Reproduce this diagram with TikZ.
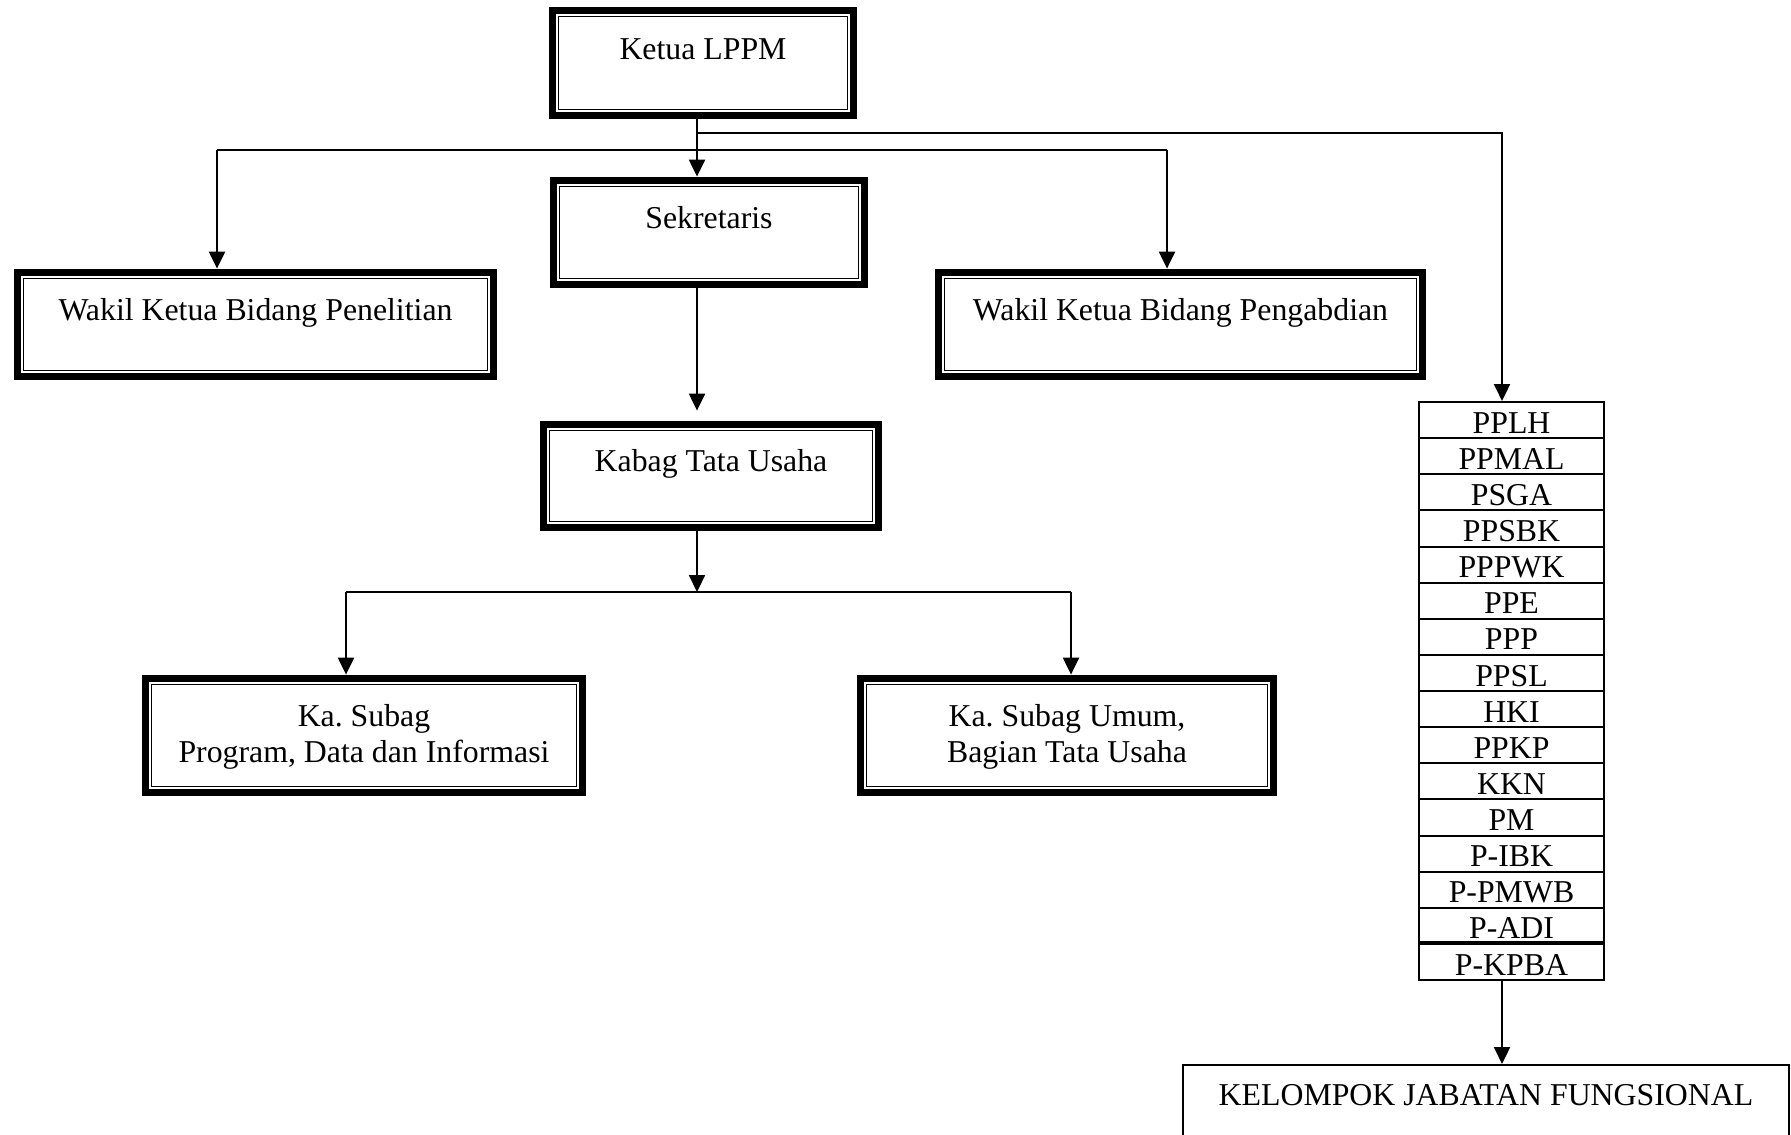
\documentclass[tikz,border=0pt]{standalone}
\usepackage{fontspec}
\setmainfont{Liberation Serif}
\usetikzlibrary{arrows.meta,fit,calc}
\frenchspacing
\begin{document}
\begin{tikzpicture}[x=0.5pt,y=-0.5pt,
  txt/.style={inner sep=0pt,font=\fontsize{15.9pt}{18pt}\selectfont},
  dbox/.style={inner sep=0pt,draw=none},
  thickb/.style={line width=3.5pt},
  thinb/.style={line width=0.75pt},
  rowbox/.style={draw,line width=1pt,inner sep=0pt},
  sbox/.style={draw,line width=1pt,inner sep=0pt},
  conn/.style={line width=1.1pt},
  arr/.style={line width=1.1pt,-{Triangle[length=8.5pt,width=8pt]}}]
\clip (0,0) rectangle (1791,1134);
\useasboundingbox (0,0) rectangle (1791,1134);
\fill[white] (0,0) rectangle (1791,1134);

% double-bordered boxes
\node[dbox,fit={(549,7) (857,119)}] (ketua) {};
\node[dbox,fit={(550,177) (868,288)}] (sek) {};
\node[dbox,fit={(14,269) (497,380)}] (wakil1) {};
\node[dbox,fit={(935,269) (1426,380)}] (wakil2) {};
\node[dbox,fit={(540,421) (882,531)}] (kabag) {};
\node[dbox,fit={(142,675) (586,796)}] (sub1) {};
\node[dbox,fit={(857,675) (1277,796)}] (sub2) {};
\foreach \n in {ketua,sek,wakil1,wakil2,kabag,sub1,sub2}{
  \draw[thickb] ([shift={(1.75pt,-1.75pt)}]\n.north west) rectangle ([shift={(-1.75pt,1.75pt)}]\n.south east);
  \draw[thinb] ([shift={(4.9pt,-4.9pt)}]\n.north west) rectangle ([shift={(-4.9pt,4.9pt)}]\n.south east);
}

% texts
\node[txt,anchor=base] (ketuaT) at (703,59.5) {Ketua LPPM};
\node[txt,anchor=base] (sekT) at (709,228) {Sekretaris};
\node[txt,anchor=base] (wakil1T) at (255.5,320.5) {Wakil Ketua Bidang Penelitian};
\node[txt,anchor=base] (wakil2T) at (1180.5,320.5) {Wakil Ketua Bidang Pengabdian};
\node[txt,anchor=base] (kabagT) at (711,471.5) {Kabag Tata Usaha};
\node[txt,anchor=base] (sub1a) at (364,726.5) {Ka. Subag};
\node[txt,anchor=base] (sub1b) at (364,762.5) {Program, Data dan Informasi};
\node[txt,anchor=base] (sub2a) at (1067,726.5) {Ka. Subag Umum,};
\node[txt,anchor=base] (sub2b) at (1067,762.5) {Bagian Tata Usaha};

% column list
\foreach \t [count=\i] in {PPLH,PPMAL,PSGA,PPSBK,PPPWK,PPE,PPP,PPSL,HKI,PPKP,KKN,PM,P-IBK,P-PMWB,P-ADI,P-KPBA}{
  \pgfmathsetmacro{\ya}{402+36.125*(\i-1)}
  \pgfmathsetmacro{\yb}{402+36.125*\i}
  \node[rowbox,fit={(1419,\ya) (1604,\yb)}] (r\i) {};
  \node[txt,anchor=base] (rt\i) at (1511.5,\yb-5) {\t};
}
\draw[line width=1.6pt] (r16.north west) -- (r16.north east);

% bottom box
\node[sbox,fit={(1183,1065) (1789,1170)}] (kjf) {};
\node[txt,anchor=base] (kjfT) at (1486,1105.5) {KELOMPOK JABATAN FUNGSIONAL};

% connector helper coordinates
\coordinate (tx) at (697,0);
\coordinate (cx) at (1502,0);
\coordinate (h1) at (0,133);
\coordinate (h2) at (0,150);
\coordinate (h3) at (0,592);
\coordinate (w1x) at (217,0);
\coordinate (w2x) at (1167,0);
\coordinate (s1x) at (346,0);
\coordinate (s2x) at (1071,0);

% connectors
\draw[arr] (ketua.south -| tx) -- (sek.north -| tx);
\draw[arr] (h1 -| tx) -| (r1.north -| cx);
\draw[conn] (w1x |- h2) -- (w2x |- h2);
\draw[arr] (w1x |- h2) -- (wakil1.north -| w1x);
\draw[arr] (w2x |- h2) -- (wakil2.north -| w2x);
\draw[arr] (sek.south -| tx) -- ([yshift=5pt]kabag.north -| tx);
\draw[arr] (kabag.south -| tx) -- (h3 -| tx);
\draw[conn] (s1x |- h3) -- (s2x |- h3);
\draw[arr] (s1x |- h3) -- (sub1.north -| s1x);
\draw[arr] (s2x |- h3) -- (sub2.north -| s2x);
\draw[arr] (r16.south -| cx) -- (kjf.north -| cx);
\end{tikzpicture}
\end{document}
